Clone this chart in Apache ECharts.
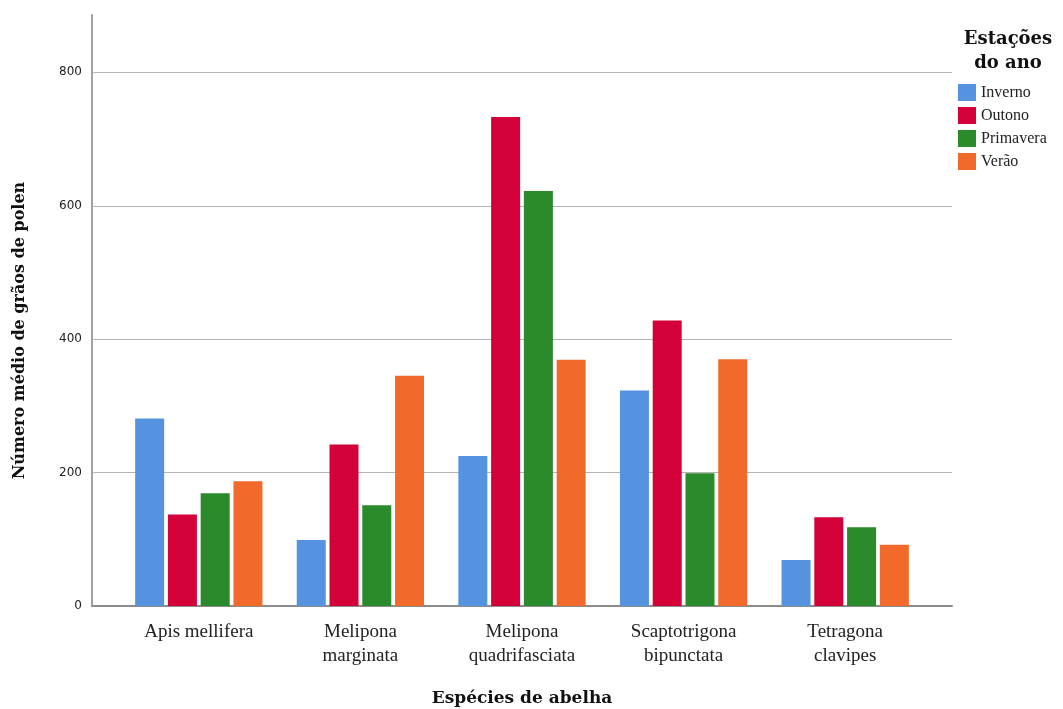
<!DOCTYPE html>
<html>
<head>
<meta charset="utf-8">
<script src="https://cdn.jsdelivr.net/npm/echarts@6/dist/echarts.min.js"></script>
<style>html,body{margin:0;padding:0;background:#fff;}#chart{width:1063px;height:709px;}</style>
</head>
<body>
<div id="chart"></div>
<script>
const categories = ['Apis mellifera', 'Melipona\nmarginata', 'Melipona\nquadrifasciata', 'Scaptotrigona\nbipunctata', 'Tetragona\nclavipes'];
const seasons = ['Inverno', 'Outono', 'Primavera', 'Verão'];
const inverno = [281, 99, 225, 323, 69];
const outono = [137, 242, 733, 428, 133];
const primavera = [169, 151, 622, 199, 118];
const verao = [187, 345, 369, 370, 92];
const colors = ['#5593e1', '#d4003a', '#2b8a2b', '#f26a2b'];
const yMax = 886;

const chart = echarts.init(document.getElementById('chart'));
const serif = '"Liberation Serif", "DejaVu Serif", serif';
const boldSerif = '"DejaVu Serif", "Liberation Serif", serif';
const values = [inverno, outono, primavera, verao];

chart.setOption({
  animation: false,
  backgroundColor: '#ffffff',
  color: colors,
  title: {
    text: 'Estações\ndo ano',
    left: 1003,
    top: 22,
    textAlign: 'center',
    textStyle: { fontFamily: boldSerif, fontWeight: 'bold', fontSize: 18, lineHeight: 24, color: '#111' }
  },
  legend: {
    data: seasons,
    orient: 'vertical',
    left: 958,
    top: 84,
    padding: 0,
    itemWidth: 18,
    itemHeight: 17,
    itemGap: 6,
    icon: 'rect',
    textStyle: { fontFamily: serif, fontSize: 16, color: '#222' }
  },
  grid: [
    { left: 92, right: 111, top: 15, bottom: 103, outerBoundsMode: 'none', containLabel: false },
    { left: 118, right: 137, top: 15, bottom: 103, outerBoundsMode: 'none', containLabel: false }
  ],
  xAxis: [
    {
      type: 'value', gridIndex: 0, min: 0, max: 1,
      axisLine: { show: true, lineStyle: { color: '#8c8c8c', width: 2 } },
      axisTick: { show: false }, axisLabel: { show: false }, splitLine: { show: false },
      name: 'Espécies de abelha', nameLocation: 'middle', nameGap: 84,
      nameTextStyle: { fontFamily: boldSerif, fontWeight: 'bold', fontSize: 17, color: '#111' }
    },
    {
      type: 'category', gridIndex: 1, data: categories,
      axisLine: { show: false }, axisTick: { show: false },
      axisLabel: { fontFamily: serif, fontSize: 19, lineHeight: 24, color: '#222', margin: 14, interval: 0 }
    }
  ],
  yAxis: [
    {
      type: 'value', gridIndex: 0, min: 0, max: yMax, interval: 200,
      axisLine: { show: true, lineStyle: { color: '#a0a0a0', width: 2 } },
      axisTick: { show: false },
      axisLabel: { fontFamily: '"DejaVu Sans", sans-serif', fontSize: 12, color: '#222', margin: 10, showMaxLabel: false },
      splitLine: { show: true, showMaxLine: false, showMinLine: false, lineStyle: { color: '#b4b4b4', width: 1 } },
      name: 'Número médio de grãos de polen', nameLocation: 'middle', nameGap: 64, nameRotate: 90,
      nameTextStyle: { fontFamily: boldSerif, fontWeight: 'bold', fontSize: 16, color: '#111', padding: [0, 40, 0, 0] }
    },
    {
      type: 'value', gridIndex: 1, min: 0, max: yMax, show: false, splitLine: { show: false }
    }
  ],
  series: seasons.map((s, i) => ({
    name: s,
    type: 'bar',
    xAxisIndex: 1,
    yAxisIndex: 1,
    data: values[i],
    barWidth: 29,
    barGap: '13%',
    itemStyle: { color: colors[i] }
  }))
});
</script>
</body>
</html>
